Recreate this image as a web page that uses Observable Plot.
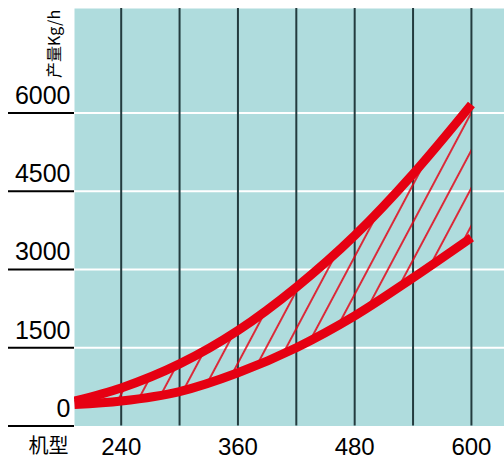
<!DOCTYPE html>
<html><head><meta charset="utf-8">
<script src="https://cdn.jsdelivr.net/npm/d3@7"></script>
<script src="https://cdn.jsdelivr.net/npm/@observablehq/plot@0.6"></script>
<style>body{margin:0;background:#fff}#chart svg{display:block}</style>
</head><body><div id="chart"></div>
<script>
const models = [192, 240, 300, 360, 420, 480, 540, 600];
const upperOutput = [480, 730, 1190, 1830, 2660, 3650, 4830, 6160];
const lowerOutput = [410, 480, 660, 1020, 1500, 2110, 2840, 3610];
const xTicks = [240, 360, 480, 600];
const yTicks = [0, 1500, 3000, 4500, 6000];
const verticalLines = [240, 300, 360, 420, 480, 540, 600];
const gridLines = [1500, 3000, 4500, 6000];
const xTitle = "机型";
const yTitle = "产量Kg/h";

const data = models.map((m, i) => ({model: m, upper: upperOutput[i], lower: lowerOutput[i]}));
const red = "#e60012";
const teal = "#afdcdd";
const dark = "#233b3e";

const chart = Plot.plot({
  width: 504,
  height: 459,
  marginLeft: 74,
  marginRight: 0,
  marginTop: 8,
  marginBottom: 33.5,
  x: {domain: [192, 634], label: null},
  y: {domain: [0, 8000], label: null},
  style: {fontFamily: "'Liberation Sans', Arial, sans-serif", background: "white", color: "black"},
  marks: [
    Plot.frame({fill: teal, stroke: null}),
    Plot.ruleY(gridLines, {stroke: "white", strokeWidth: 2}),
    Plot.ruleX(verticalLines, {stroke: dark, strokeWidth: 2}),
    Plot.areaY(data, {x: "model", y1: "lower", y2: "upper", fill: "url(#hatch)", curve: "monotone-x"}),
    Plot.line(data, {x: "model", y: "upper", stroke: red, strokeWidth: 9, curve: "monotone-x", strokeLinecap: "butt", clip: "frame"}),
    Plot.line(data, {x: "model", y: "lower", stroke: red, strokeWidth: 9, curve: "monotone-x", strokeLinecap: "butt", clip: "frame"}),
    Plot.axisY(yTicks, {tickSize: 66, stroke: "black", strokeWidth: 2, fill: "none", label: null}),
    Plot.axisY(yTicks, {tickSize: 0, tickPadding: 4, stroke: "none", fill: "black", fontSize: 25, dy: -17, label: null, tickFormat: d => String(d)}),
    Plot.axisX(xTicks, {tickSize: 0, tickPadding: 12, stroke: "none", fill: "black", fontSize: 24, label: null, tickFormat: d => String(d)}),
    Plot.text([xTitle], {text: d => d, frameAnchor: "bottom-left", dx: -6, dy: 21, textAnchor: "end", lineAnchor: "middle", fontSize: 20, fontFamily: "'Noto Sans CJK SC', sans-serif"}),
    Plot.text([yTitle], {text: d => d, frameAnchor: "top-left", dx: -19.5, dy: 35.5, rotate: -90, textAnchor: "middle", lineAnchor: "middle", fontSize: 16, fontFamily: "'Noto Sans CJK SC', 'Liberation Sans', sans-serif"})
  ]
});

const NS = "http://www.w3.org/2000/svg";
const defs = document.createElementNS(NS, "defs");
const pattern = document.createElementNS(NS, "pattern");
pattern.setAttribute("id", "hatch");
pattern.setAttribute("patternUnits", "userSpaceOnUse");
pattern.setAttribute("width", "17.7");
pattern.setAttribute("height", "20");
pattern.setAttribute("patternTransform", "rotate(28)");
const hl = document.createElementNS(NS, "line");
hl.setAttribute("x1", "8.85"); hl.setAttribute("x2", "8.85");
hl.setAttribute("y1", "-5"); hl.setAttribute("y2", "25");
hl.setAttribute("stroke", red); hl.setAttribute("stroke-width", "1.6");
pattern.appendChild(hl);
defs.appendChild(pattern);
chart.insertBefore(defs, chart.firstChild);

document.getElementById("chart").appendChild(chart);
</script>
</body></html>
